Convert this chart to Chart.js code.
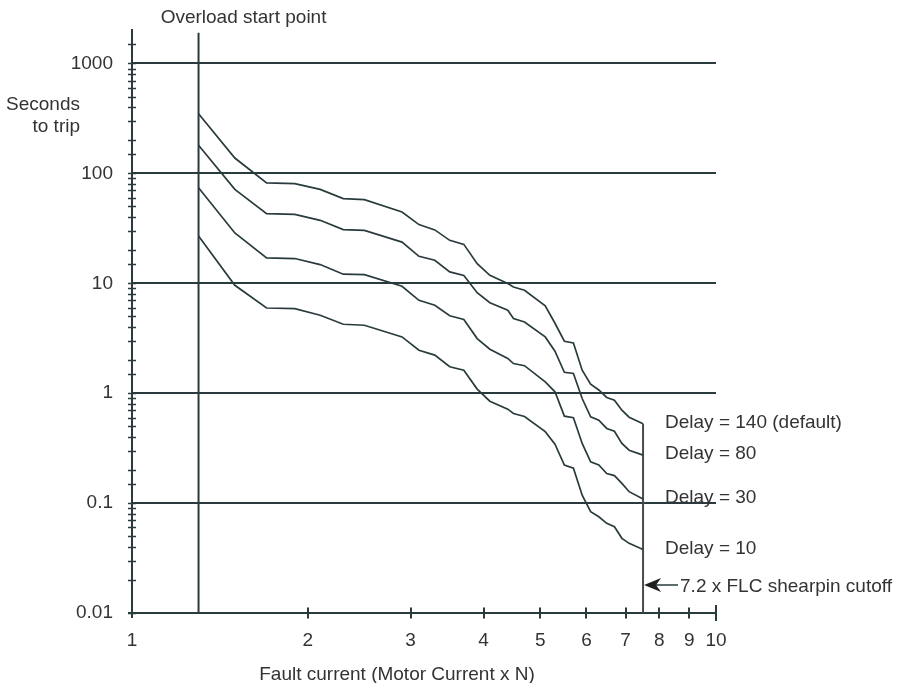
<!DOCTYPE html>
<html>
<head>
<meta charset="utf-8">
<title>Seconds to trip vs fault current</title>
<script src="https://cdn.jsdelivr.net/npm/chart.js@4.4.1/dist/chart.umd.min.js"></script>
<style>
  html, body { margin: 0; padding: 0; background: #fff; }
  canvas { display: block; }
</style>
</head>
<body>
<canvas id="trip" width="903" height="683"></canvas>
<script>
// fault current (x motor current) where the curves bend
const faultCurrent = [1.3, 1.5, 1.7, 1.9, 2.1, 2.3, 2.5, 2.9, 3.1, 3.3, 3.5, 3.7, 3.9, 4.1, 4.4, 4.5, 4.7, 5.1, 5.3, 5.5, 5.7, 5.9, 6.1, 6.3, 6.5, 6.7, 6.9, 7.1, 7.5];

// seconds to trip, one list per delay setting
const delay140 = [349, 138, 82, 80.6, 71.5, 58.9, 57.7, 44.5, 34.2, 30.6, 24.6, 22.6, 15.1, 11.8, 9.94, 9.26, 8.64, 6.24, 4.33, 2.97, 2.87, 1.62, 1.21, 1.07, 0.914, 0.864, 0.70, 0.605, 0.528];
const delay80 = [180, 71.5, 43.0, 42.4, 37.4, 30.8, 30.3, 23.7, 17.6, 16.2, 12.7, 11.8, 8.2, 6.65, 5.68, 4.78, 4.45, 3.25, 2.41, 1.55, 1.51, 0.895, 0.609, 0.568, 0.478, 0.451, 0.349, 0.303, 0.273];
const delay30 = [74.1, 28.7, 17.0, 16.8, 14.8, 12.1, 12.0, 9.39, 7.0, 6.31, 5.06, 4.68, 3.14, 2.51, 2.07, 1.86, 1.78, 1.27, 1.03, 0.618, 0.599, 0.349, 0.237, 0.222, 0.186, 0.178, 0.151, 0.127, 0.109];
const delay10 = [26.9, 9.59, 5.96, 5.89, 5.12, 4.24, 4.15, 3.25, 2.46, 2.22, 1.74, 1.62, 1.09, 0.846, 0.716, 0.654, 0.614, 0.447, 0.344, 0.222, 0.208, 0.118, 0.0834, 0.0751, 0.0654, 0.0609, 0.0478, 0.043, 0.0378];

const delayLabels = ["Delay = 140 (default)", "Delay = 80", "Delay = 30", "Delay = 10"];

const overloadStart = 1.3;
const overloadTop = 1900;
const shearpinCutoff = 7.5;
const shearpinText = "7.2 x FLC shearpin cutoff";

const xTickValues = [1, 2, 3, 4, 5, 6, 7, 8, 9, 10];
const xTickLabels = ["1", "2", "3", "4", "5", "6", "7", "8", "9", "10"];
const yTickValues = [0.01, 0.1, 1, 10, 100, 1000];
const yTickLabels = ["0.01", "0.1", "1", "10", "100", "1000"];

const ink = "#2a3b3e";
const textColor = "#333333";
const font = "19px 'Liberation Sans', Arial, sans-serif";

Chart.defaults.font.family = "'Liberation Sans', Arial, sans-serif";
Chart.defaults.font.size = 19;
Chart.defaults.color = textColor;

function toPoints(values) {
  return values.map((v, i) => ({ x: faultCurrent[i], y: v }));
}

function findTick(list, value) {
  return list.findIndex((t) => Math.abs(t - value) / t < 1e-6);
}

function curve(values) {
  return {
    data: toPoints(values),
    borderColor: ink,
    borderWidth: 1.7,
    pointRadius: 0,
    tension: 0,
  };
}

const curves = [delay140, delay80, delay30, delay10];

const decorations = {
  id: "decorations",
  afterDraw(chart) {
    const { ctx, chartArea } = chart;
    const x = chart.scales.x;
    const y = chart.scales.y;
    const left = chartArea.left;
    const bottom = chartArea.bottom;
    ctx.save();
    ctx.strokeStyle = ink;

    // y axis marks, crossing the axis
    ctx.lineWidth = 1.5;
    y.ticks.forEach((t) => {
      const py = Math.round(y.getPixelForValue(t.value)) + 0.5;
      if (py < chartArea.top + 2) return;
      ctx.beginPath();
      ctx.moveTo(left - 4, py);
      ctx.lineTo(left + 4, py);
      ctx.stroke();
    });

    // x axis marks, only at the labelled values
    ctx.lineWidth = 2;
    xTickValues.forEach((v) => {
      if (v === 1) return;
      const px = Math.round(x.getPixelForValue(v));
      const h = v === 10 ? 8 : 5.5;
      ctx.beginPath();
      ctx.moveTo(px, bottom - h);
      ctx.lineTo(px, bottom + h);
      ctx.stroke();
    });

    // axis ends poking past the corner
    ctx.beginPath();
    ctx.moveTo(left - 4, bottom);
    ctx.lineTo(left, bottom);
    ctx.moveTo(left, bottom);
    ctx.lineTo(left, bottom + 5);
    ctx.stroke();

    // texts
    ctx.fillStyle = textColor;
    ctx.font = font;
    ctx.textBaseline = "alphabetic";

    ctx.textAlign = "center";
    ctx.fillText("Overload start point", x.getPixelForValue(overloadStart) + 45, 23);
    ctx.fillText("Fault current (Motor Current x N)", 397, 680);

    ctx.textAlign = "right";
    ctx.fillText("Seconds", 80, 110);
    ctx.fillText("to trip", 80, 132);

    ctx.textAlign = "left";
    const cutX = x.getPixelForValue(shearpinCutoff);
    curves.forEach((values, i) => {
      const py = y.getPixelForValue(values[values.length - 1]);
      ctx.fillText(delayLabels[i], cutX + 22, py + 4);
    });

    // shearpin arrow
    const ay = bottom - 28;
    ctx.lineWidth = 1.5;
    ctx.beginPath();
    ctx.moveTo(cutX + 10, ay);
    ctx.lineTo(cutX + 35, ay);
    ctx.stroke();
    ctx.fillStyle = "#1f1f1f";
    ctx.beginPath();
    ctx.moveTo(cutX + 1, ay);
    ctx.lineTo(cutX + 18, ay - 7);
    ctx.lineTo(cutX + 13, ay);
    ctx.lineTo(cutX + 18, ay + 7);
    ctx.closePath();
    ctx.fill();
    ctx.fillStyle = textColor;
    ctx.fillText(shearpinText, cutX + 37, ay + 7);

    ctx.restore();
  },
};

new Chart(document.getElementById("trip"), {
  type: "line",
  data: {
    datasets: [
      ...curves.map(curve),
      {
        data: [
          { x: overloadStart, y: 0.01 },
          { x: overloadStart, y: overloadTop },
        ],
        borderColor: ink,
        borderWidth: 2,
        pointRadius: 0,
      },
      {
        data: [
          { x: shearpinCutoff, y: 0.01 },
          { x: shearpinCutoff, y: delay140[delay140.length - 1] },
        ],
        borderColor: "#4a4a4a",
        borderWidth: 2,
        pointRadius: 0,
      },
    ],
  },
  options: {
    responsive: false,
    animation: false,
    layout: { padding: { top: 30, right: 187, left: 0, bottom: 0 } },
    plugins: {
      legend: { display: false },
      tooltip: { enabled: false },
    },
    scales: {
      x: {
        type: "logarithmic",
        min: 1,
        max: 10,
        afterFit: (scale) => {
          scale.height = 70;
        },
        grid: { display: false, drawTicks: false },
        border: { display: true, color: ink, width: 2 },
        ticks: {
          autoSkip: false,
          maxRotation: 0,
          padding: 16,
          color: textColor,
          callback: (v) => {
            const i = findTick(xTickValues, v);
            return i < 0 ? "" : xTickLabels[i];
          },
        },
      },
      y: {
        type: "logarithmic",
        min: 0.01,
        max: 2000,
        afterFit: (scale) => {
          scale.width = 132;
        },
        grid: {
          drawTicks: false,
          lineWidth: 2,
          color: (c) => (c.tick && findTick(yTickValues, c.tick.value) >= 0 ? ink : "rgba(0,0,0,0)"),
        },
        border: { display: true, color: ink, width: 2 },
        ticks: {
          autoSkip: false,
          padding: 19,
          color: textColor,
          callback: (v) => {
            const i = findTick(yTickValues, v);
            return i < 0 ? "" : yTickLabels[i];
          },
        },
      },
    },
  },
  plugins: [decorations],
});
</script>
</body>
</html>
